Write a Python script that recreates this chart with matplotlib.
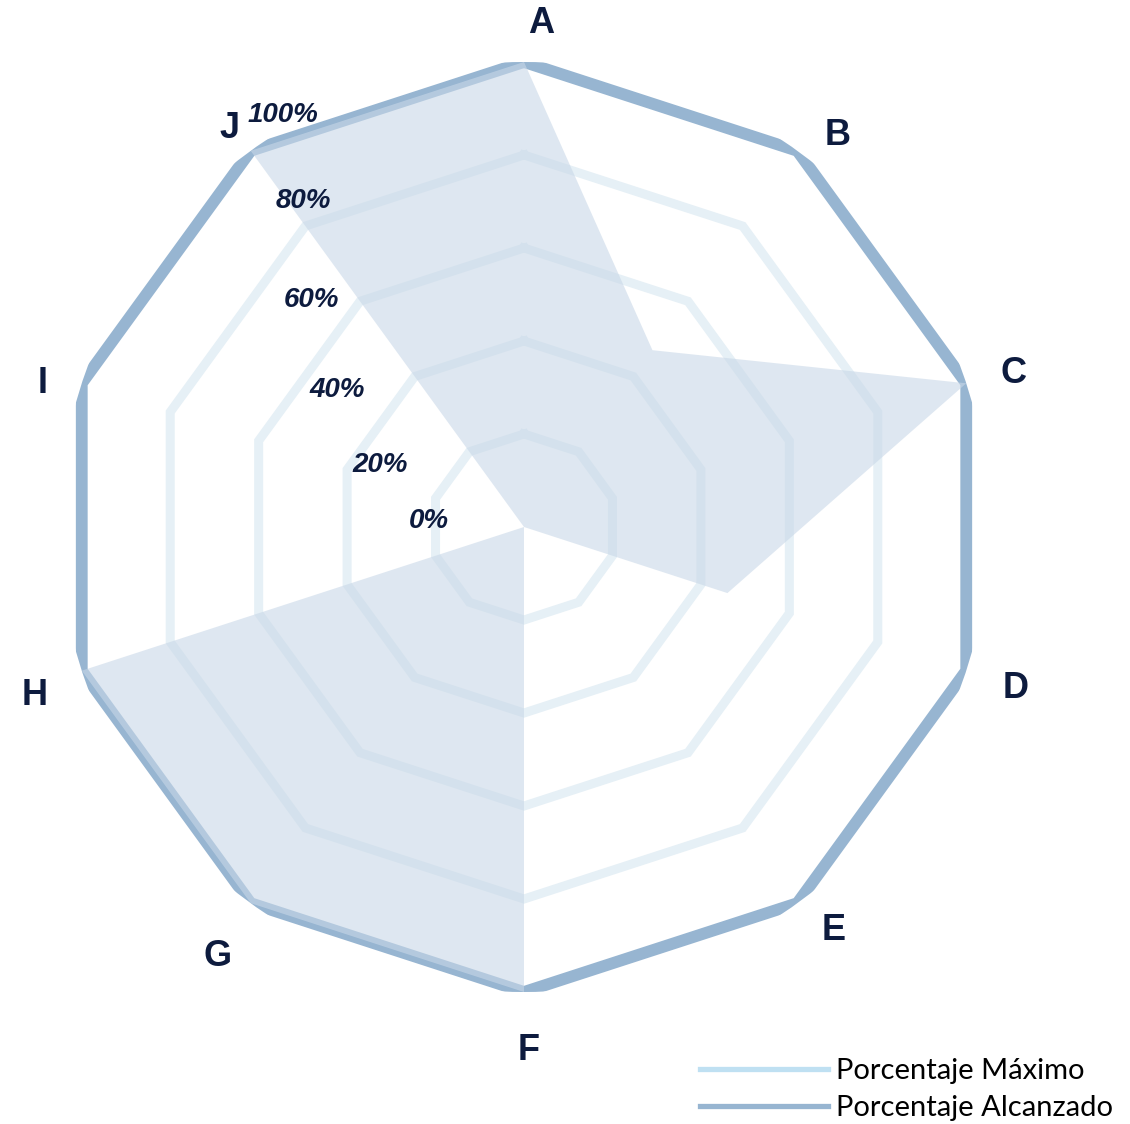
import numpy as np
import matplotlib
matplotlib.use("Agg")
import matplotlib.pyplot as plt
from matplotlib.lines import Line2D

# Chart data
categories = ["A", "B", "C", "D", "E", "F", "G", "H", "I", "J"]
porcentaje_maximo = [100, 100, 100, 100, 100, 100, 100, 100, 100, 100]
porcentaje_alcanzado = [100, 47, 100, 46, 0, 100, 100, 100, 0, 100]
ring_ticks = [20, 40, 60, 80, 100]
tick_labels = ["0%", "20%", "40%", "60%", "80%", "100%"]

navy = "#0d1b3e"
grid_col = "#e6f0f6"
steel = "#97b5d1"
light = "#bfe0f2"
fill_col = "#c9d8e8"

W, H = 1130, 1124
fig = plt.figure(figsize=(W / 100, H / 100), dpi=100)

# polar axes centred at (524, 527) px with radius 465 px
cx, cy, R = 524, 527, 465
ax = fig.add_axes([(cx - R) / W, 1 - (cy + R) / H, 2 * R / W, 2 * R / H], projection="polar")
ax.set_theta_zero_location("N")
ax.set_theta_direction(-1)
ax.set_ylim(0, 100)
ax.grid(False)
ax.spines["polar"].set_visible(False)
ax.set_xticks([])
ax.set_yticks([])
ax.patch.set_alpha(0)

n = len(categories)
theta = np.linspace(0, 2 * np.pi, n, endpoint=False)
theta_c = np.append(theta, theta[0])

# decagon gridlines
for r in ring_ticks[:-1]:
    ax.plot(theta_c, [r] * (n + 1), color=grid_col, lw=6.5, zorder=1, solid_joinstyle="miter")

# max series (outer frame)
vals_max = porcentaje_maximo + porcentaje_maximo[:1]
ax.plot(theta_c, vals_max, color=steel, lw=8.5, zorder=2, solid_joinstyle="miter")

# achieved series as filled area
vals_alc = porcentaje_alcanzado + porcentaje_alcanzado[:1]
ax.fill(theta_c, vals_alc, color=fill_col, alpha=0.6, lw=0, zorder=3)

# category labels (angle in degrees, radius in % units)
label_ang = [1.9, 38.7, 72.6, 108.2, 142.5, 179.5, 215.5, 251.0, 286.6, 323.5]
label_r = [108.4, 108, 110.4, 111.4, 109.3, 112.5, 113.4, 111.2, 108, 106.5]
for a, lab, lr in zip(label_ang, categories, label_r):
    ax.text(np.deg2rad(a), lr, lab, ha="center", va="center", fontsize=26, fontweight="bold",
            color=navy, family="Liberation Sans", clip_on=False, zorder=5)

# radial tick labels (figure positions as in the original layout)
tick_pos = [(429, 521), (380, 465), (337, 390), (311, 300), (303, 201), (283, 115)]
for lab, (px, py) in zip(tick_labels, tick_pos):
    fig.text(px / W, 1 - py / H, lab, ha="center", va="center", fontsize=20,
             fontweight="bold", style="italic", color=navy, family="Liberation Sans", zorder=6)

handles = [Line2D([], [], color=light, lw=3.8), Line2D([], [], color=steel, lw=3.8)]
fig.legend(handles, ["Porcentaje Máximo", "Porcentaje Alcanzado"], loc="upper left",
           bbox_to_anchor=(700 / W, 1 - 1058 / H), frameon=False,
           handlelength=4.4, handletextpad=0.28, labelspacing=0.38, borderpad=0,
           borderaxespad=0, prop={"family": "Lato", "size": 21})

fig.savefig("out.png", dpi=100)
